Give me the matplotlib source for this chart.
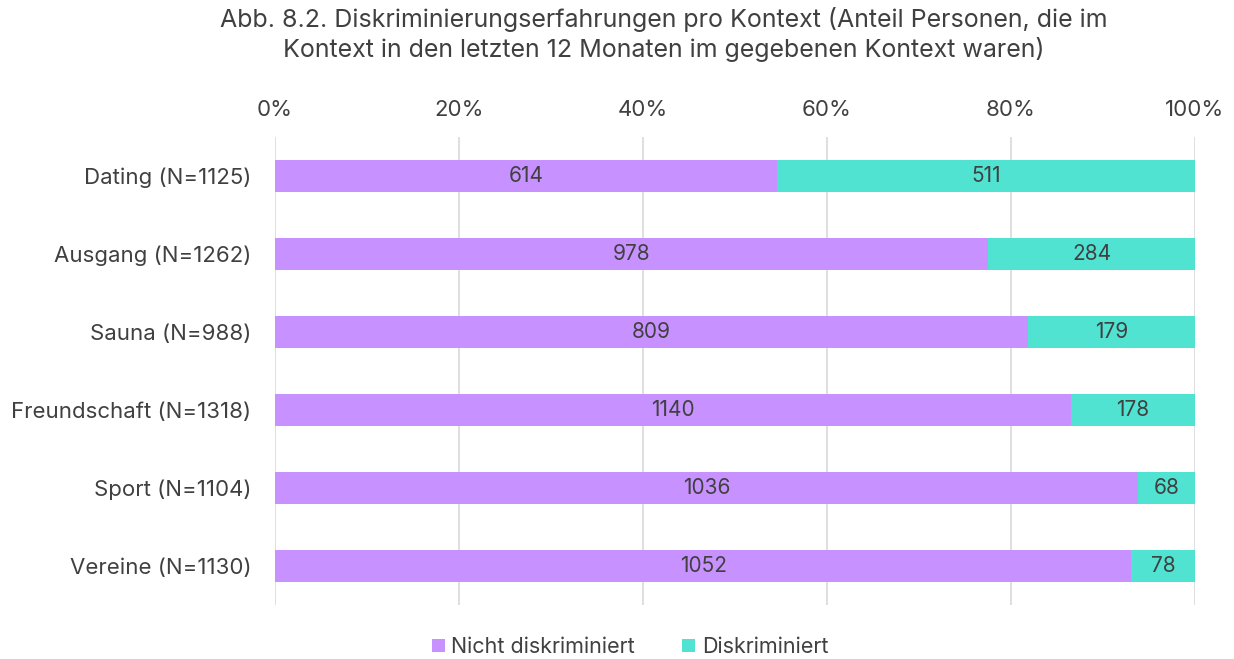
import numpy as np
import matplotlib
matplotlib.use("Agg")
from matplotlib import pyplot as plt

categories = ["Dating (N=1125)", "Ausgang (N=1262)", "Sauna (N=988)",
              "Freundschaft (N=1318)", "Sport (N=1104)", "Vereine (N=1130)"]
nicht_diskr = [614, 978, 809, 1140, 1036, 1052]
diskr = [511, 284, 179, 178, 68, 78]
series_names = ["Nicht diskriminiert", "Diskriminiert"]
colors = ["#C792FF", "#50E3D2"]
text_color = "#404040"

plt.rcParams['font.family'] = ['Inter', 'DejaVu Sans']

nd = np.array(nicht_diskr, dtype=float)
d = np.array(diskr, dtype=float)
total = nd + d
nd_pct = nd / total * 100
d_pct = d / total * 100

fig = plt.figure(figsize=(12.34, 6.59), dpi=100)
ax = fig.add_axes([275 / 1234, 1 - 605 / 659, 920 / 1234, 468 / 659])

y = np.arange(len(categories))
b1 = ax.barh(y, nd_pct, height=0.4, color=colors[0], label=series_names[0], zorder=3)
b2 = ax.barh(y, d_pct, left=nd_pct, height=0.4, color=colors[1], label=series_names[1], zorder=3)

# counts written inside each segment
for bars, vals in [(b1, nicht_diskr), (b2, diskr)]:
    for bar, v in zip(bars, vals):
        ax.text(bar.get_x() + bar.get_width() / 2, bar.get_y() + bar.get_height() / 2,
                str(v), ha='center', va='center', fontsize=15, color=text_color, zorder=4)

ax.set_xlim(0, 100)
ax.set_ylim(5.5, -0.5)
ax.set_xticks(np.arange(0, 101, 20))
ax.set_xticklabels([f"{t}%" for t in range(0, 101, 20)])
ax.xaxis.tick_top()
ax.set_yticks(y)
ax.set_yticklabels(categories)
ax.tick_params(axis='both', length=0, labelsize=16, colors=text_color)
ax.tick_params(axis='x', pad=12)
ax.tick_params(axis='y', pad=17)
ax.grid(axis='x', color='#D9D9D9', linewidth=1.2, zorder=0)
for s in ax.spines.values():
    s.set_visible(False)

fig.text(664 / 1234, 1 - 7 / 659,
         "Abb. 8.2. Diskriminierungserfahrungen pro Kontext (Anteil Personen, die im\n"
         "Kontext in den letzten 12 Monaten im gegebenen Kontext waren)",
         ha='center', va='top', fontsize=18, color=text_color, linespacing=1.25)

fig.legend(handles=[b1, b2], labels=series_names, loc='center',
           bbox_to_anchor=(630 / 1234, 1 - 647 / 659), ncol=2, frameon=False,
           fontsize=15.5, handlelength=0.6, handleheight=0.6, handletextpad=0.3,
           columnspacing=2.2, labelcolor=text_color)

fig.savefig("out.png", dpi=100)
